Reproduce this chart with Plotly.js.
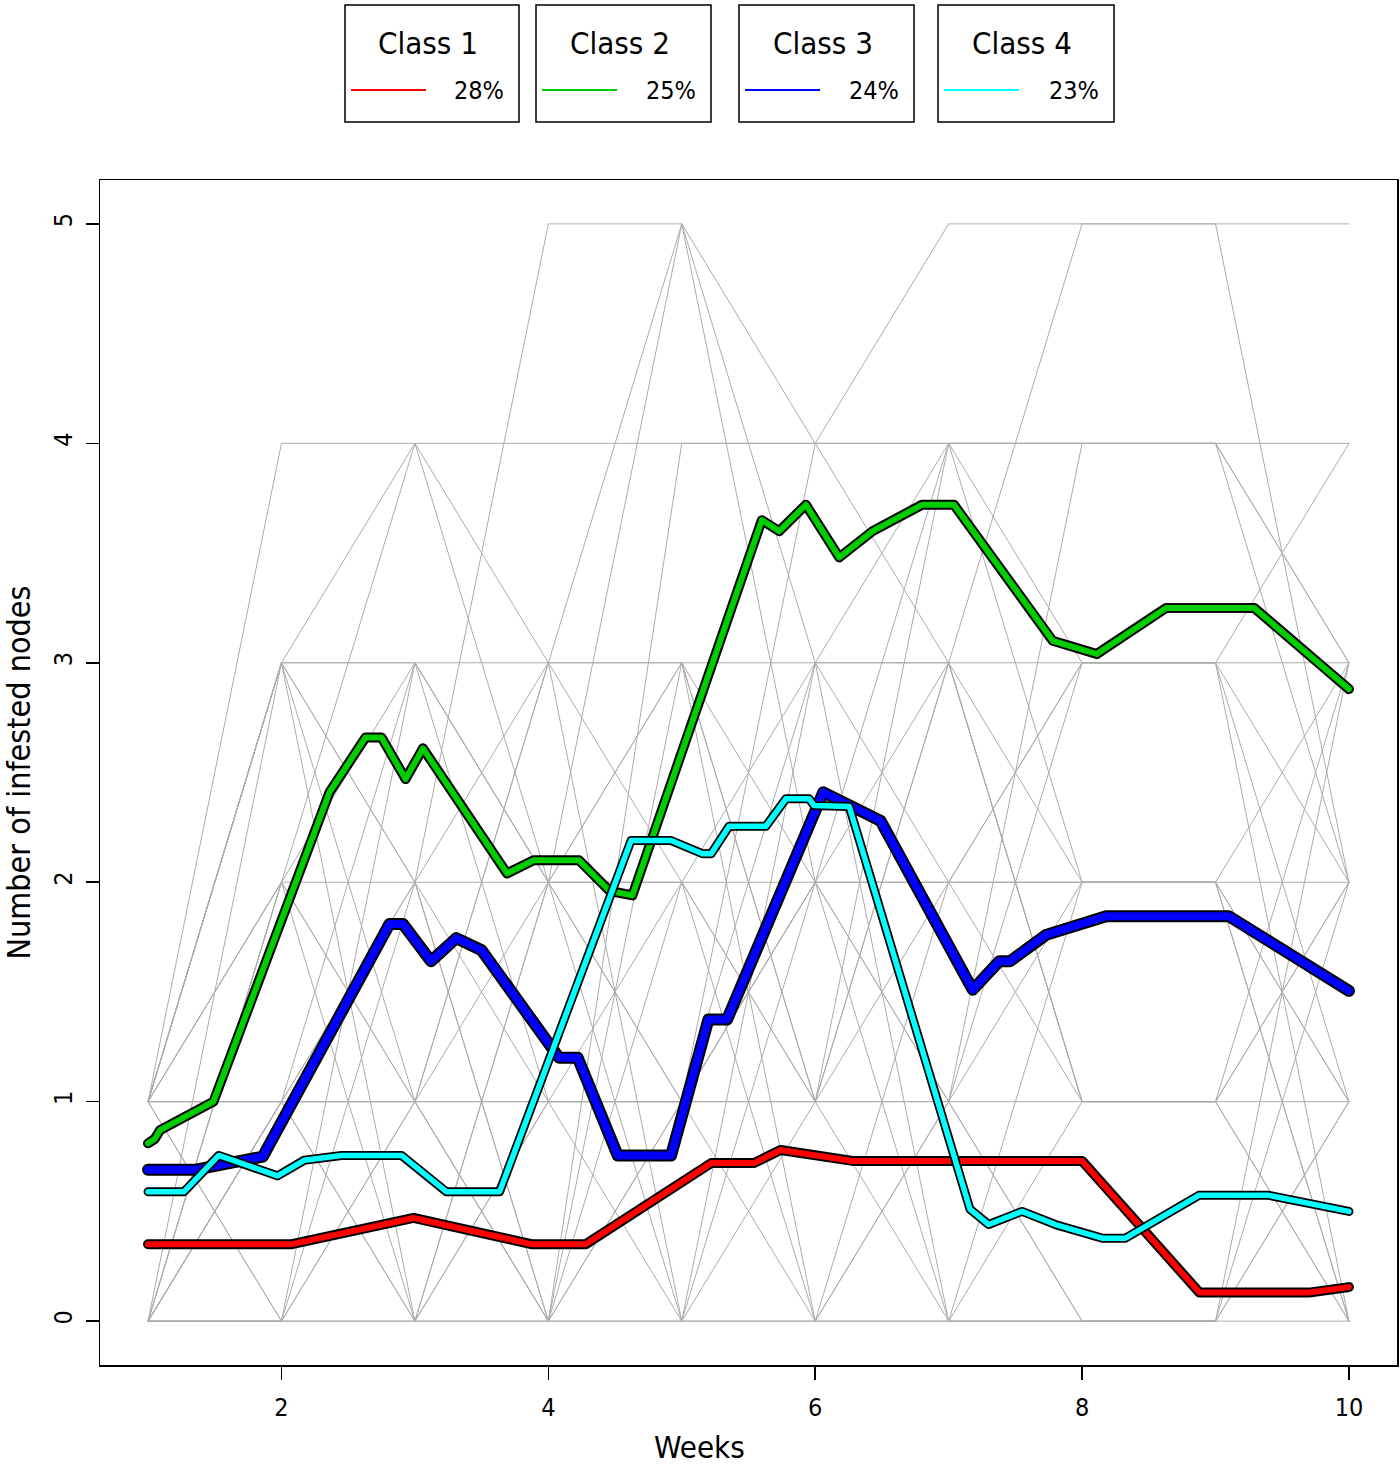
<!DOCTYPE html>
<html>
<head>
<meta charset="utf-8">
<script src="https://cdn.plot.ly/plotly-3.0.1.min.js"></script>
<style>
  html, body { margin: 0; padding: 0; background: #ffffff; }
  #chart { width: 1400px; height: 1470px; }
  .js-line { stroke-linejoin: round !important; stroke-linecap: round !important; }
</style>
</head>
<body>
<div id="chart"></div>
<script>
// ---------------- data ----------------
const weeks = [1, 2, 3, 4, 5, 6, 7, 8, 9, 10];

// individual runs (number of infested nodes per week)
const grayRuns = [
  [1,4,4,4,4,4,4,4,4,4],
  [0,2,2,5,5,4,5,5,5,5],
  [1,3,4,3,5,3,3,3,3,3],
  [0,2,4,2,5,2,2,3,3,4],
  [1,3,3,3,3,3,3,5,5,2],
  [1,3,2,1,2,3,4,4,4,3],
  [0,3,0,1,0,0,1,2,2,2],
  [1,2,1,2,3,2,1,0,0,1],
  [0,1,2,3,2,1,0,1,1,0],
  [1,1,0,0,1,2,3,2,2,1],
  [0,0,1,0,2,0,2,1,1,3],
  [1,0,0,2,1,1,2,3,3,1],
  [0,1,3,1,1,0,0,0,0,2],
  [1,2,3,2,1,3,2,2,2,0],
  [0,0,2,0,0,1,3,1,1,0],
  [1,1,1,3,0,2,0,0,0,1],
  [0,1,1,0,3,1,1,4,4,2],
  [1,0,1,1,1,4,4,2,2,3],
  [0,2,1,3,3,0,1,3,3,2],
  [1,3,1,0,1,2,4,3,3,0],
  [0,0,3,2,0,3,0,2,2,0],
  [1,2,0,2,3,1,3,1,1,2],
  [0,1,0,1,1,2,1,0,0,3],
  [1,3,2,2,2,2,2,2,2,1],
  [0,0,0,0,0,0,0,0,0,0],
  [1,1,1,1,1,1,1,1,1,1],
  [1,3,3,2,2,1,4,4,4,3],
  [0,1,2,0,4,4,3,1,1,2]
];

// class averages
const class1Weeks  = [1, 2.07, 2.99, 3.88, 4.28, 5.22, 5.54, 5.74, 6.28, 8.0, 8.88, 9.7, 10];
const class1Values = [0.35, 0.35, 0.47, 0.35, 0.35, 0.72, 0.72, 0.78, 0.73, 0.73, 0.13, 0.13, 0.155];

const class2Weeks  = [1, 1.05, 1.09, 1.49, 2.36, 2.63, 2.75, 2.93, 3.06, 3.69, 3.89, 4.23, 4.46, 4.63, 5.6, 5.73, 5.93, 6.18, 6.43, 6.8, 7.04, 7.78, 8.11, 8.63, 9.29, 10];
const class2Values = [0.81, 0.83, 0.87, 1.0, 2.41, 2.66, 2.66, 2.47, 2.61, 2.04, 2.1, 2.1, 1.96, 1.94, 3.65, 3.6, 3.72, 3.48, 3.6, 3.72, 3.72, 3.1, 3.04, 3.25, 3.25, 2.88];

const class3Weeks  = [1, 1.36, 1.86, 2.81, 2.91, 3.12, 3.31, 3.5, 4.08, 4.22, 4.52, 4.92, 5.2, 5.34, 6.06, 6.29, 6.49, 7.18, 7.38, 7.46, 7.73, 8.18, 9.1, 10];
const class3Values = [0.69, 0.69, 0.75, 1.81, 1.81, 1.64, 1.745, 1.69, 1.2, 1.2, 0.755, 0.755, 1.375, 1.375, 2.41, 2.345, 2.28, 1.51, 1.64, 1.64, 1.76, 1.845, 1.845, 1.505];

const class4Weeks  = [1, 1.27, 1.53, 1.97, 2.17, 2.45, 2.9, 3.235, 3.635, 4.62, 4.92, 5.155, 5.22, 5.355, 5.63, 5.78, 5.955, 5.99, 6.255, 7.16, 7.3, 7.55, 7.8, 8.15, 8.325, 8.875, 9.4, 10];
const class4Values = [0.59, 0.59, 0.755, 0.662, 0.733, 0.755, 0.755, 0.59, 0.59, 2.19, 2.19, 2.13, 2.13, 2.255, 2.255, 2.38, 2.38, 2.35, 2.345, 0.51, 0.44, 0.5, 0.44, 0.378, 0.378, 0.573, 0.573, 0.5];

const classNames  = ['Class 1', 'Class 2', 'Class 3', 'Class 4'];
const classShares = ['28%', '25%', '24%', '23%'];
const classColors = ['#ff0000', '#00cd00', '#0000ff', '#00ffff'];

const xTicks = [2, 4, 6, 8, 10];
const yTicks = [0, 1, 2, 3, 4, 5];

// ---------------- layout helpers ----------------
const W = 1400, H = 1470;
const M = { l: 100, r: 3, t: 180, b: 105 };
const plotW = W - M.l - M.r, plotH = H - M.t - M.b;
const px = x => (x - M.l) / plotW;          // pixel x -> paper x
const py = y => (H - M.b - y) / plotH;      // pixel y -> paper y

const FONT = 'Liberation Sans Narrow, DejaVu Sans Condensed, Liberation Sans, Arial, sans-serif';

const traces = [];
grayRuns.forEach(run => {
  traces.push({
    x: weeks, y: run, type: 'scatter', mode: 'lines',
    line: { color: '#acacac', width: 1 },
    hoverinfo: 'skip', showlegend: false
  });
});

const classWeeks  = [class1Weeks, class2Weeks, class3Weeks, class4Weeks];
const classValues = [class1Values, class2Values, class3Values, class4Values];
const innerW = [6, 6, 8, 5.5];
const outerW = [10, 10, 12, 9];
for (let i = 0; i < 4; i++) {
  traces.push({
    x: classWeeks[i], y: classValues[i], type: 'scatter', mode: 'lines',
    line: { color: '#000000', width: outerW[i] },
    hoverinfo: 'skip', showlegend: false
  });
  traces.push({
    x: classWeeks[i], y: classValues[i], type: 'scatter', mode: 'lines',
    name: classNames[i],
    line: { color: classColors[i], width: innerW[i] },
    showlegend: false
  });
}

// legend boxes
const boxLeft  = [345, 536, 739, 938];
const boxRight = [519, 711, 914, 1114];
const boxTop = 5, boxBottom = 122;
const shapes = [];
const annotations = [];
for (let i = 0; i < 4; i++) {
  shapes.push({
    type: 'rect', xref: 'paper', yref: 'paper',
    x0: px(boxLeft[i]), x1: px(boxRight[i]), y0: py(boxBottom), y1: py(boxTop),
    line: { color: '#000000', width: 1.5 }, fillcolor: 'rgba(0,0,0,0)'
  });
  shapes.push({
    type: 'line', xref: 'paper', yref: 'paper',
    x0: px(boxLeft[i] + 6), x1: px(boxLeft[i] + 81), y0: py(90), y1: py(90),
    line: { color: classColors[i], width: 2 }
  });
  annotations.push({
    xref: 'paper', yref: 'paper', x: px((boxLeft[i] + boxRight[i]) / 2 - 4), y: py(43),
    text: classNames[i], showarrow: false, xanchor: 'center', yanchor: 'middle',
    font: { family: FONT, size: 31, color: '#000000' }
  });
  annotations.push({
    xref: 'paper', yref: 'paper', x: px(boxRight[i] - 13), y: py(91),
    text: classShares[i], showarrow: false, xanchor: 'right', yanchor: 'middle',
    font: { family: FONT, size: 25, color: '#000000' }
  });
}

// x axis title placed where the reference draws it
annotations.push({
  xref: 'paper', yref: 'paper', x: px(699), y: py(1447),
  text: 'Weeks', showarrow: false, xanchor: 'center', yanchor: 'middle',
  borderpad: 0,
  font: { family: FONT, size: 31, color: '#000000' }
});

const axisCommon = {
  showgrid: false, zeroline: false, showline: true, mirror: true,
  linecolor: '#000000', linewidth: 1.5,
  ticks: 'outside', ticklen: 13, tickwidth: 1.5, tickcolor: '#000000',
  tickfont: { family: FONT, size: 25, color: '#000000' }
};

const layout = {
  width: W, height: H,
  margin: M,
  paper_bgcolor: '#ffffff', plot_bgcolor: '#ffffff',
  showlegend: false,
  font: { family: FONT, color: '#000000' },
  xaxis: Object.assign({}, axisCommon, {
    range: [0.64, 10.36], tickmode: 'array', tickvals: xTicks,
    ticklabelstandoff: 6
  }),
  yaxis: Object.assign({}, axisCommon, {
    range: [-0.2, 5.2], tickmode: 'array', tickvals: yTicks, tickangle: -90,
    ticklabelstandoff: 4,
    title: { text: 'Number of infested nodes', font: { family: FONT, size: 32, color: '#000000' }, standoff: 26 }
  }),
  shapes: shapes,
  annotations: annotations
};

Plotly.newPlot('chart', traces, layout, { displayModeBar: false, staticPlot: true });
</script>
</body>
</html>
